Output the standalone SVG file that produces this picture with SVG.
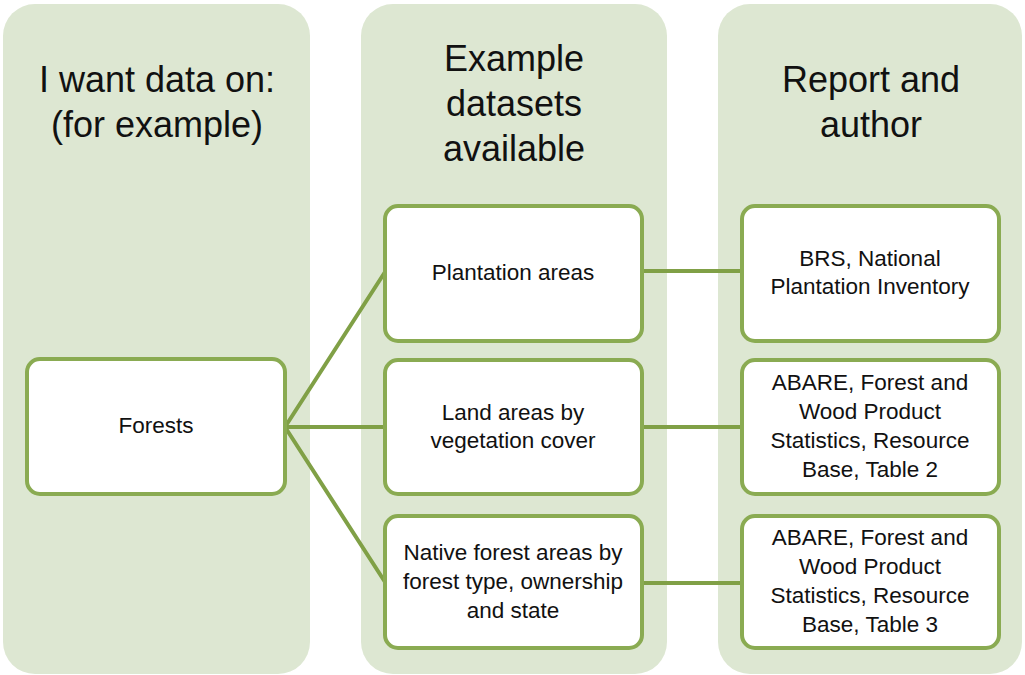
<svg xmlns="http://www.w3.org/2000/svg" width="1025" height="675" viewBox="0 0 1025 675">
<style>
.col{fill:#dde7d2;stroke:none}
.box{fill:#ffffff;stroke:#8aab52;stroke-width:4}
.hdr{font-family:"Liberation Sans",Arial,sans-serif;font-size:36px;fill:#111;text-anchor:middle}
.lbl{font-family:"Liberation Sans",Arial,sans-serif;font-size:22.5px;fill:#111;text-anchor:middle}
.con{stroke:#80a046;stroke-width:4;fill:none;stroke-linecap:round}
</style>
<rect width="1025" height="675" fill="#ffffff"/>
<g id="col1"><rect class="col" x="3" y="4" width="307" height="670" rx="32"/>
<text class="hdr" x="157" y="92">I want data on:</text>
<text class="hdr" x="157" y="137">(for example)</text></g>
<g id="col2"><rect class="col" x="361" y="4" width="306" height="670" rx="32"/>
<text class="hdr" x="514" y="71">Example</text>
<text class="hdr" x="514" y="116">datasets</text>
<text class="hdr" x="514" y="161">available</text></g>
<g id="col3"><rect class="col" x="718" y="4" width="304" height="670" rx="32"/>
<text class="hdr" x="871" y="92">Report and</text>
<text class="hdr" x="871" y="137">author</text></g>
<g id="connectors">
<line class="con" x1="285" y1="427" x2="385" y2="272"/>
<line class="con" x1="285" y1="427" x2="385" y2="427"/>
<line class="con" x1="285" y1="427" x2="385" y2="582"/>
<line class="con" x1="642" y1="271" x2="742" y2="271"/>
<line class="con" x1="642" y1="427" x2="742" y2="427"/>
<line class="con" x1="642" y1="583" x2="742" y2="583"/>
</g>
<g id="forests"><rect class="box" x="27" y="359" width="258" height="135" rx="13"/>
<text class="lbl" x="156" y="433">Forests</text></g>
<g id="plantation"><rect class="box" x="385" y="206" width="257" height="135" rx="13"/>
<text class="lbl" x="513" y="280">Plantation areas</text></g>
<g id="land"><rect class="box" x="385" y="360" width="257" height="134" rx="13"/>
<text class="lbl" x="513" y="420">Land areas by</text>
<text class="lbl" x="513" y="448">vegetation cover</text></g>
<g id="native"><rect class="box" x="385" y="516" width="257" height="132" rx="13"/>
<text class="lbl" x="513" y="560">Native forest areas by</text>
<text class="lbl" x="513" y="589">forest type, ownership</text>
<text class="lbl" x="513" y="618">and state</text></g>
<g id="brs"><rect class="box" x="742" y="206" width="257" height="135" rx="13"/>
<text class="lbl" x="870" y="266">BRS, National</text>
<text class="lbl" x="870" y="294">Plantation Inventory</text></g>
<g id="abare2"><rect class="box" x="742" y="360" width="257" height="134" rx="13"/>
<text class="lbl" x="870" y="390">ABARE, Forest and</text>
<text class="lbl" x="870" y="419">Wood Product</text>
<text class="lbl" x="870" y="448">Statistics, Resource</text>
<text class="lbl" x="870" y="477">Base, Table 2</text></g>
<g id="abare3"><rect class="box" x="742" y="516" width="257" height="132" rx="13"/>
<text class="lbl" x="870" y="545">ABARE, Forest and</text>
<text class="lbl" x="870" y="574">Wood Product</text>
<text class="lbl" x="870" y="603">Statistics, Resource</text>
<text class="lbl" x="870" y="632">Base, Table 3</text></g>
</svg>
